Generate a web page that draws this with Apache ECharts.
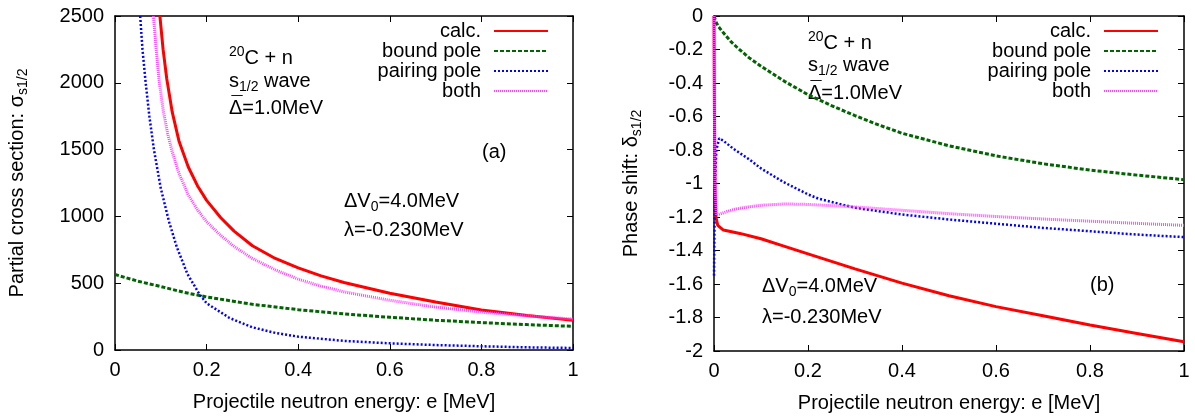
<!DOCTYPE html>
<html>
<head>
<meta charset="utf-8">
<script src="https://cdn.jsdelivr.net/npm/echarts@6/dist/echarts.min.js"></script>
<style>
  html, body { margin: 0; padding: 0; background: #fff; }
  #chart { width: 1195px; height: 418px; }
</style>
</head>
<body>
<div id="chart"></div>
<script>
// ---- data ----
const seriesNames = ['calc.', 'bound pole', 'pairing pole', 'both'];

// (a) partial cross section
const calcE_a  = [0.098, 0.105, 0.113, 0.125, 0.14, 0.16, 0.18, 0.2, 0.231, 0.26, 0.3, 0.35, 0.4, 0.45, 0.5, 0.6, 0.7, 0.8, 0.9, 1.0];
const calcS_a  = [2500, 2250, 2030, 1780, 1560, 1370, 1230, 1120, 990, 890, 780, 685, 615, 555, 505, 425, 360, 300, 258, 222];
const boundE_a = [0, 0.05, 0.1, 0.15, 0.2, 0.3, 0.4, 0.5, 0.6, 0.7, 0.8, 0.9, 1.0];
const boundS_a = [565, 515, 475, 432, 397, 342, 302, 270, 245, 223, 205, 190, 177];
const pairE_a  = [0.055, 0.06, 0.067, 0.075, 0.085, 0.1, 0.118, 0.135, 0.158, 0.184, 0.2, 0.25, 0.3, 0.35, 0.4, 0.5, 0.6, 0.7, 0.8, 0.9, 1.0];
const pairS_a  = [2500, 2250, 2000, 1750, 1500, 1210, 960, 770, 570, 420, 350, 240, 170, 128, 100, 68, 50, 37, 28, 20, 15];
const bothE_a  = [0.084, 0.09, 0.096, 0.105, 0.115, 0.125, 0.14, 0.16, 0.18, 0.2, 0.23, 0.26, 0.3, 0.35, 0.4, 0.45, 0.5, 0.6, 0.7, 0.8, 0.9, 1.0];
const bothS_a  = [2500, 2250, 2030, 1800, 1620, 1480, 1320, 1160, 1050, 960, 860, 775, 685, 600, 530, 478, 435, 372, 322, 283, 255, 232];

// (b) phase shift
const calcE_b  = [0, 0.001, 0.002, 0.004, 0.008, 0.02, 0.055, 0.1, 0.147, 0.2, 0.3, 0.4, 0.5, 0.6, 0.7, 0.8, 0.9, 1.0];
const calcD_b  = [0, -0.6, -1.0, -1.2, -1.25, -1.278, -1.298, -1.33, -1.372, -1.42, -1.51, -1.595, -1.67, -1.735, -1.79, -1.845, -1.895, -1.945];
const boundE_b = [0, 0.005, 0.01, 0.02, 0.035, 0.05, 0.075, 0.1, 0.15, 0.2, 0.25, 0.3, 0.35, 0.4, 0.5, 0.6, 0.7, 0.8, 0.9, 1.0];
const boundD_b = [0, -0.04, -0.065, -0.1, -0.15, -0.19, -0.25, -0.3, -0.39, -0.47, -0.535, -0.595, -0.65, -0.7, -0.775, -0.835, -0.882, -0.92, -0.95, -0.977];
const pairE_b  = [0, 0.002, 0.005, 0.011, 0.02, 0.04, 0.077, 0.1, 0.147, 0.2, 0.222, 0.3, 0.4, 0.5, 0.6, 0.7, 0.8, 0.9, 1.0];
const pairD_b  = [-1.55, -1.0, -0.8, -0.73, -0.745, -0.79, -0.86, -0.91, -0.99, -1.065, -1.09, -1.145, -1.185, -1.215, -1.24, -1.265, -1.285, -1.305, -1.32];
const bothE_b  = [0, 0.001, 0.002, 0.005, 0.01, 0.03, 0.05, 0.077, 0.1, 0.15, 0.2, 0.3, 0.4, 0.5, 0.6, 0.7, 0.8, 0.9, 1.0];
const bothD_b  = [0, -0.6, -1.0, -1.19, -1.185, -1.165, -1.15, -1.138, -1.13, -1.122, -1.125, -1.14, -1.16, -1.18, -1.197, -1.212, -1.225, -1.238, -1.25];

const FONT = "'Liberation Sans', Arial, sans-serif";
const colors = ['#ff0000', '#006400', '#0000ff', '#ff44ff'];
const lineStyles = [
  { width: 3, type: 'solid' },
  { width: 3, type: [4, 2] },
  { width: 2.5, type: [2, 2] },
  { width: 3, type: [1, 1] }
];

function zip(xs, ys) {
  return xs.map((x, i) => [x, ys[i]]);
}

const rich = {
  n: { fontSize: 20, lineHeight: 26, fontFamily: FONT, color: '#000' },
  sub: { fontSize: 14, lineHeight: 12, verticalAlign: 'bottom', fontFamily: FONT, color: '#000' },
  sup: { fontSize: 14, lineHeight: 10, verticalAlign: 'top', fontFamily: FONT, color: '#000' }
};

function xAx(grid, pos) {
  return {
    type: 'value', gridIndex: grid, position: pos, min: 0, max: 1, interval: 0.2,
    axisLine: { show: true, onZero: false, lineStyle: { color: '#000', width: 1.5 } },
    axisTick: { show: true, inside: true, length: 6, lineStyle: { color: '#000' } },
    axisLabel: { show: pos === 'bottom', fontSize: 20, color: '#000', fontFamily: FONT, margin: 10 },
    splitLine: { show: false },
    name: pos === 'bottom' ? 'Projectile neutron energy: e [MeV]' : '',
    nameLocation: 'middle', nameGap: 42,
    nameTextStyle: { fontSize: 20, color: '#000', fontFamily: FONT }
  };
}

function yAx(grid, pos, min, max, interval, name, gap) {
  return {
    type: 'value', gridIndex: grid, position: pos, min: min, max: max, interval: interval,
    axisLine: { show: true, onZero: false, lineStyle: { color: '#000', width: 1.5 } },
    axisTick: { show: true, inside: true, length: 6, lineStyle: { color: '#000' } },
    axisLabel: {
      show: pos === 'left', fontSize: 20, color: '#000', fontFamily: FONT, margin: 11,
      formatter: v => String(Math.round(v * 1000) / 1000)
    },
    splitLine: { show: false },
    name: pos === 'left' ? name : '',
    nameLocation: 'middle', nameGap: gap, nameRotate: 90,
    nameTextStyle: { fontSize: 20, color: '#000', fontFamily: FONT, rich: rich }
  };
}

function mkSeries(i, xi, yi, data) {
  return {
    name: seriesNames[i], type: 'line', xAxisIndex: xi, yAxisIndex: yi,
    data: data, symbol: 'none', smooth: false,
    color: colors[i],
    lineStyle: Object.assign({ color: colors[i] }, lineStyles[i]),
    clip: true, animation: false
  };
}

function legendAt(right) {
  return {
    data: seriesNames, orient: 'vertical', align: 'right',
    right: right, top: 21, padding: 0, itemGap: 0,
    itemWidth: 54, itemHeight: 14,
    selectedMode: false,
    itemStyle: { color: 'rgba(0,0,0,0)', borderWidth: 0, opacity: 0 },
    textStyle: { fontSize: 20, lineHeight: 20, color: '#000', fontFamily: FONT, padding: [0, 8, 0, 0] }
  };
}

function label(x, y, text, align) {
  return {
    type: 'text', x: x, y: y,
    style: { text: text, rich: rich, font: '20px ' + FONT, fill: '#000', align: align || 'left', verticalAlign: 'middle' }
  };
}

// macron over the Delta, drawn as its own small text
function bar(x, y) {
  return {
    type: 'text', x: x + 7, y: y - 4,
    style: { text: '\u00AF', font: '20px ' + FONT, fill: '#000', align: 'center', verticalAlign: 'middle' }
  };
}

const chart = echarts.init(document.getElementById('chart'), null, { renderer: 'canvas' });

const option = {
  animation: false,
  backgroundColor: '#fff',
  grid: [
    { left: 115, top: 16, width: 458, height: 334 },
    { left: 714, top: 16, width: 470, height: 335 }
  ],
  xAxis: [xAx(0, 'bottom'), xAx(0, 'top'), xAx(1, 'bottom'), xAx(1, 'top')],
  yAxis: [
    yAx(0, 'left', 0, 2500, 500, '{n|Partial cross section: σ}{sub|s1/2}', 85),
    yAx(0, 'right', 0, 2500, 500, '', 0),
    yAx(1, 'left', -2, 0, 0.2, '{n|Phase shift: δ}{sub|s1/2}', 70),
    yAx(1, 'right', -2, 0, 0.2, '', 0)
  ],
  legend: [legendAt(646), legendAt(36)],
  series: [
    mkSeries(0, 0, 0, zip(calcE_a, calcS_a)),
    mkSeries(1, 0, 0, zip(boundE_a, boundS_a)),
    mkSeries(2, 0, 0, zip(pairE_a, pairS_a)),
    mkSeries(3, 0, 0, zip(bothE_a, bothS_a)),
    mkSeries(0, 2, 2, zip(calcE_b, calcD_b)),
    mkSeries(1, 2, 2, zip(boundE_b, boundD_b)),
    mkSeries(2, 2, 2, zip(pairE_b, pairD_b)),
    mkSeries(3, 2, 2, zip(bothE_b, bothD_b))
  ],
  graphic: [
    // panel (a) notes
    label(229, 58, '{sup|20}{n|C + n}'),
    label(229, 81, '{n|s}{sub|1/2}{n| wave}'),
    label(229, 108, '{n|Δ=1.0MeV}'),
    bar(230, 108),
    label(482, 152, '{n|(a)}'),
    label(344, 201, '{n|ΔV}{sub|0}{n|=4.0MeV}'),
    label(344, 230, '{n|λ=-0.230MeV}'),
    // panel (b) notes
    label(808, 43, '{sup|20}{n|C + n}'),
    label(808, 65, '{n|s}{sub|1/2}{n| wave}'),
    label(808, 93, '{n|Δ=1.0MeV}'),
    bar(809, 93),
    label(1090, 285, '{n|(b)}'),
    label(762, 286, '{n|ΔV}{sub|0}{n|=4.0MeV}'),
    label(762, 317, '{n|λ=-0.230MeV}')
  ]
};

chart.setOption(option);
</script>
</body>
</html>
